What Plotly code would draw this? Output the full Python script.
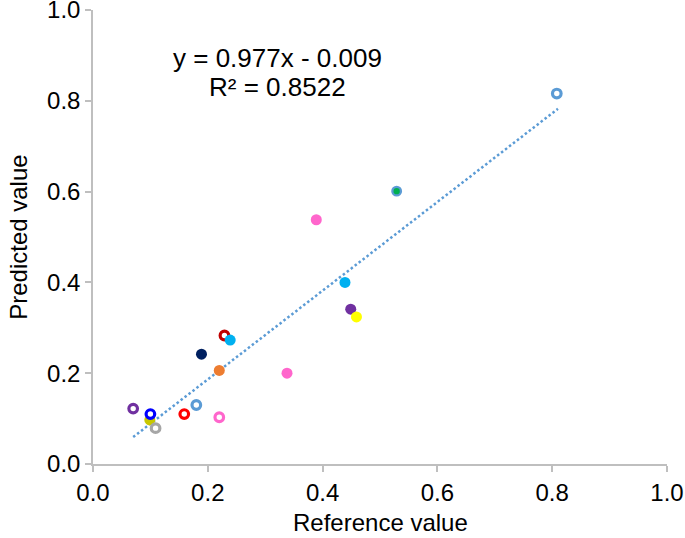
import plotly.graph_objects as go

# Data
ref_values = [0.070, 0.099, 0.100, 0.109, 0.159, 0.180, 0.220, 0.220, 0.189, 0.229, 0.239,
              0.338, 0.389, 0.439, 0.449, 0.459, 0.529, 0.808]
pred_values = [0.122, 0.097, 0.110, 0.079, 0.110, 0.130, 0.103, 0.206, 0.242, 0.283, 0.273,
               0.200, 0.538, 0.400, 0.341, 0.324, 0.601, 0.816]
point_colors = ["#7030a0", "#c8c800", "#0000ff", "#a6a6a6", "#ff0000", "#5b9bd5", "#ff66cc",
                "#ed7d31", "#002060", "#c00000", "#00b0f0", "#ff66cc", "#ff66cc", "#00b0f0",
                "#7030a0", "#ffff00", "#00b050", "#5b9bd5"]
hollow = [True, False, True, True, True, True, True, False, False, True, False,
          False, False, False, False, False, False, True]
outlined = [False] * 16 + [True, False]

slope = 0.977
intercept = -0.009
trend_x = [0.07, 0.81]

x_ticks = [0.0, 0.2, 0.4, 0.6, 0.8, 1.0]
y_ticks = [0.0, 0.2, 0.4, 0.6, 0.8, 1.0]

FONT = "Liberation Sans, Arial, sans-serif"

fill_cols, line_cols, line_w, sizes = [], [], [], []
for c, h, o in zip(point_colors, hollow, outlined):
    if h:
        fill_cols.append("white"); line_cols.append(c); line_w.append(3.2); sizes.append(8.6)
    elif o:
        fill_cols.append(c); line_cols.append("#5b9bd5"); line_w.append(2.3); sizes.append(8.6)
    else:
        fill_cols.append(c); line_cols.append(c); line_w.append(0); sizes.append(11)

fig = go.Figure()
fig.add_trace(go.Scatter(
    x=trend_x, y=[slope * v + intercept for v in trend_x], mode="lines",
    line=dict(color="#5b9bd5", width=2.5, dash="2.5px,2.5px"), hoverinfo="skip",
    showlegend=False))
fig.add_trace(go.Scatter(
    x=ref_values, y=pred_values, mode="markers",
    marker=dict(color=fill_cols, size=sizes, opacity=1,
                line=dict(color=line_cols, width=line_w)),
    showlegend=False))

axis_common = dict(range=[0, 1], showgrid=False, zeroline=False, showline=True,
                   linecolor="#bfbfbf", linewidth=1.5, ticks="outside", ticklen=6,
                   tickcolor="#bfbfbf", tickwidth=1.5, tickformat=".1f",
                   ticklabeloverflow="allow", automargin=False,
                   tickfont=dict(family=FONT, size=24, color="black"))

fig.update_layout(
    width=685, height=538,
    margin=dict(l=93, r=18, t=10, b=74, autoexpand=False),
    paper_bgcolor="white", plot_bgcolor="white",
    xaxis=dict(**axis_common, tickvals=x_ticks),
    yaxis=dict(**axis_common, tickvals=y_ticks),
    annotations=[
        dict(x=0.322, y=0.894, xref="x", yref="y", showarrow=False,
             text="y = 0.977x - 0.009", font=dict(family=FONT, size=26, color="black")),
        dict(x=0.322, y=0.830, xref="x", yref="y", showarrow=False,
             text="R² = 0.8522", font=dict(family=FONT, size=26, color="black")),
        dict(x=0.5, y=-0.128, xref="paper", yref="paper", showarrow=False,
             xanchor="center", yanchor="middle",
             text="Reference value", font=dict(family=FONT, size=24, color="black")),
        dict(x=-0.131, y=0.5, xref="paper", yref="paper", showarrow=False,
             xanchor="center", yanchor="middle", textangle=-90,
             text="Predicted value", font=dict(family=FONT, size=24, color="black")),
    ],
)

fig.write_html("out.html", config={"displayModeBar": False},
               post_script="document.body.style.margin='0';document.body.style.overflow='hidden';")
